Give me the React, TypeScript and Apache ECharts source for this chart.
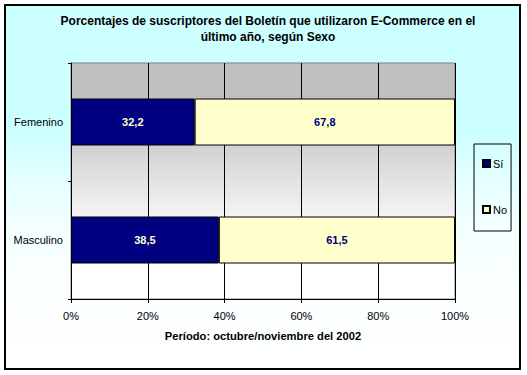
import React, { useEffect, useRef } from "react";
import * as echarts from "echarts";

const categories = ["Femenino", "Masculino"];
const siValues = [32.2, 38.5];
const noValues = [67.8, 61.5];
const seriesNames = ["Sí", "No"];
const titleText = "Porcentajes de suscriptores del Boletín que utilizaron E-Commerce en el\núltimo año, según Sexo";
const xAxisName = "Período: octubre/noviembre del 2002";

const FONT = "'Liberation Sans', Arial, sans-serif";

export default function App() {
  const ref = useRef<HTMLDivElement>(null);
  useEffect(() => {
    if (!ref.current) return;
    const chart = echarts.init(ref.current, null, { renderer: "svg" });
    const fmt = (p: any) => String(p.value).replace(".", ",");
    chart.setOption({
      animation: false,
      backgroundColor: "#ffffff",
      textStyle: { fontFamily: FONT },
      graphic: [
        {
          type: "rect",
          z: -10,
          silent: true,
          shape: { x: 5, y: 5, width: 515, height: 364 },
          style: {
            fill: new echarts.graphic.LinearGradient(0, 0, 0, 1, [
              { offset: 0, color: "#ccffff" },
              { offset: 0.35, color: "#ccffff" },
              { offset: 0.42, color: "#d9ffff" },
              { offset: 0.48, color: "#e3ffff" },
              { offset: 0.54, color: "#ecffff" },
              { offset: 0.62, color: "#f3ffff" },
              { offset: 0.75, color: "#faffff" },
              { offset: 1, color: "#ffffff" },
            ]),
            stroke: "#000000",
            lineWidth: 2,
          },
        },
      ],
      title: {
        text: titleText,
        left: 263,
        top: 8,
        textAlign: "center",
        textStyle: {
          fontFamily: FONT,
          fontSize: 12,
          fontWeight: "bold",
          color: "#000000",
          lineHeight: 16,
        },
      },
      legend: {
        data: seriesNames,
        orient: "vertical",
        left: 474,
        top: 144,
        padding: [14, 4, 16, 8],
        itemGap: 35,
        itemWidth: 7,
        itemHeight: 7,
        icon: "rect",
        borderColor: "#000000",
        borderWidth: 1,
        textStyle: { fontFamily: FONT, fontSize: 11, color: "#000000", padding: [0, 0, 0, -2] },
      },
      grid: {
        left: 71,
        top: 63,
        width: 384,
        height: 236,
        show: true,
        borderColor: "#808080",
        borderWidth: 1,
        backgroundColor: new echarts.graphic.LinearGradient(0, 0, 0, 1, [
          { offset: 0, color: "#c0c0c0" },
          { offset: 0.15, color: "#c0c0c0" },
          { offset: 0.3, color: "#c8c8c8" },
          { offset: 0.37, color: "#d3d3d3" },
          { offset: 0.44, color: "#dcdcdc" },
          { offset: 0.52, color: "#e5e5e5" },
          { offset: 0.6, color: "#efefef" },
          { offset: 0.7, color: "#f9f9f9" },
          { offset: 0.85, color: "#ffffff" },
          { offset: 1, color: "#ffffff" },
        ]),
      },
      xAxis: {
        type: "value",
        min: 0,
        max: 100,
        interval: 20,
        name: xAxisName,
        nameLocation: "middle",
        nameGap: 31,
        nameTextStyle: { fontFamily: FONT, fontSize: 11.2, fontWeight: "bold", color: "#000000" },
        axisLine: { show: true, lineStyle: { color: "#000000", width: 1 } },
        axisTick: { show: true, length: 4, lineStyle: { color: "#000000" } },
        axisLabel: {
          formatter: "{value}%",
          fontFamily: FONT,
          fontSize: 11,
          color: "#000000",
          margin: 11,
        },
        splitLine: { show: true, lineStyle: { color: "#000000", width: 1 } },
      },
      yAxis: {
        type: "category",
        data: categories,
        inverse: true,
        axisLine: { show: true, lineStyle: { color: "#000000", width: 1 } },
        axisTick: { show: true, length: 3, lineStyle: { color: "#000000" } },
        axisLabel: { fontFamily: FONT, fontSize: 11, color: "#000000", margin: 8 },
        splitLine: { show: false },
      },
      series: [
        {
          name: seriesNames[0],
          type: "bar",
          stack: "total",
          data: siValues,
          barWidth: 47,
          itemStyle: { color: "#000080", borderColor: "#000000", borderWidth: 1 },
          label: {
            show: true,
            position: "inside",
            formatter: fmt,
            fontFamily: FONT,
            fontSize: 11,
            fontWeight: "bold",
            color: "#ffffcc",
          },
        },
        {
          name: seriesNames[1],
          type: "bar",
          stack: "total",
          data: noValues,
          barWidth: 47,
          itemStyle: { color: "#ffffcc", borderColor: "#000000", borderWidth: 1 },
          label: {
            show: true,
            position: "inside",
            formatter: fmt,
            fontFamily: FONT,
            fontSize: 11,
            fontWeight: "bold",
            color: "#000080",
          },
        },
      ],
    });
    return () => chart.dispose();
  }, []);
  return (
    <div
      ref={ref}
      style={{ position: "fixed", left: 0, top: 0, width: 527, height: 375 }}
    />
  );
}
